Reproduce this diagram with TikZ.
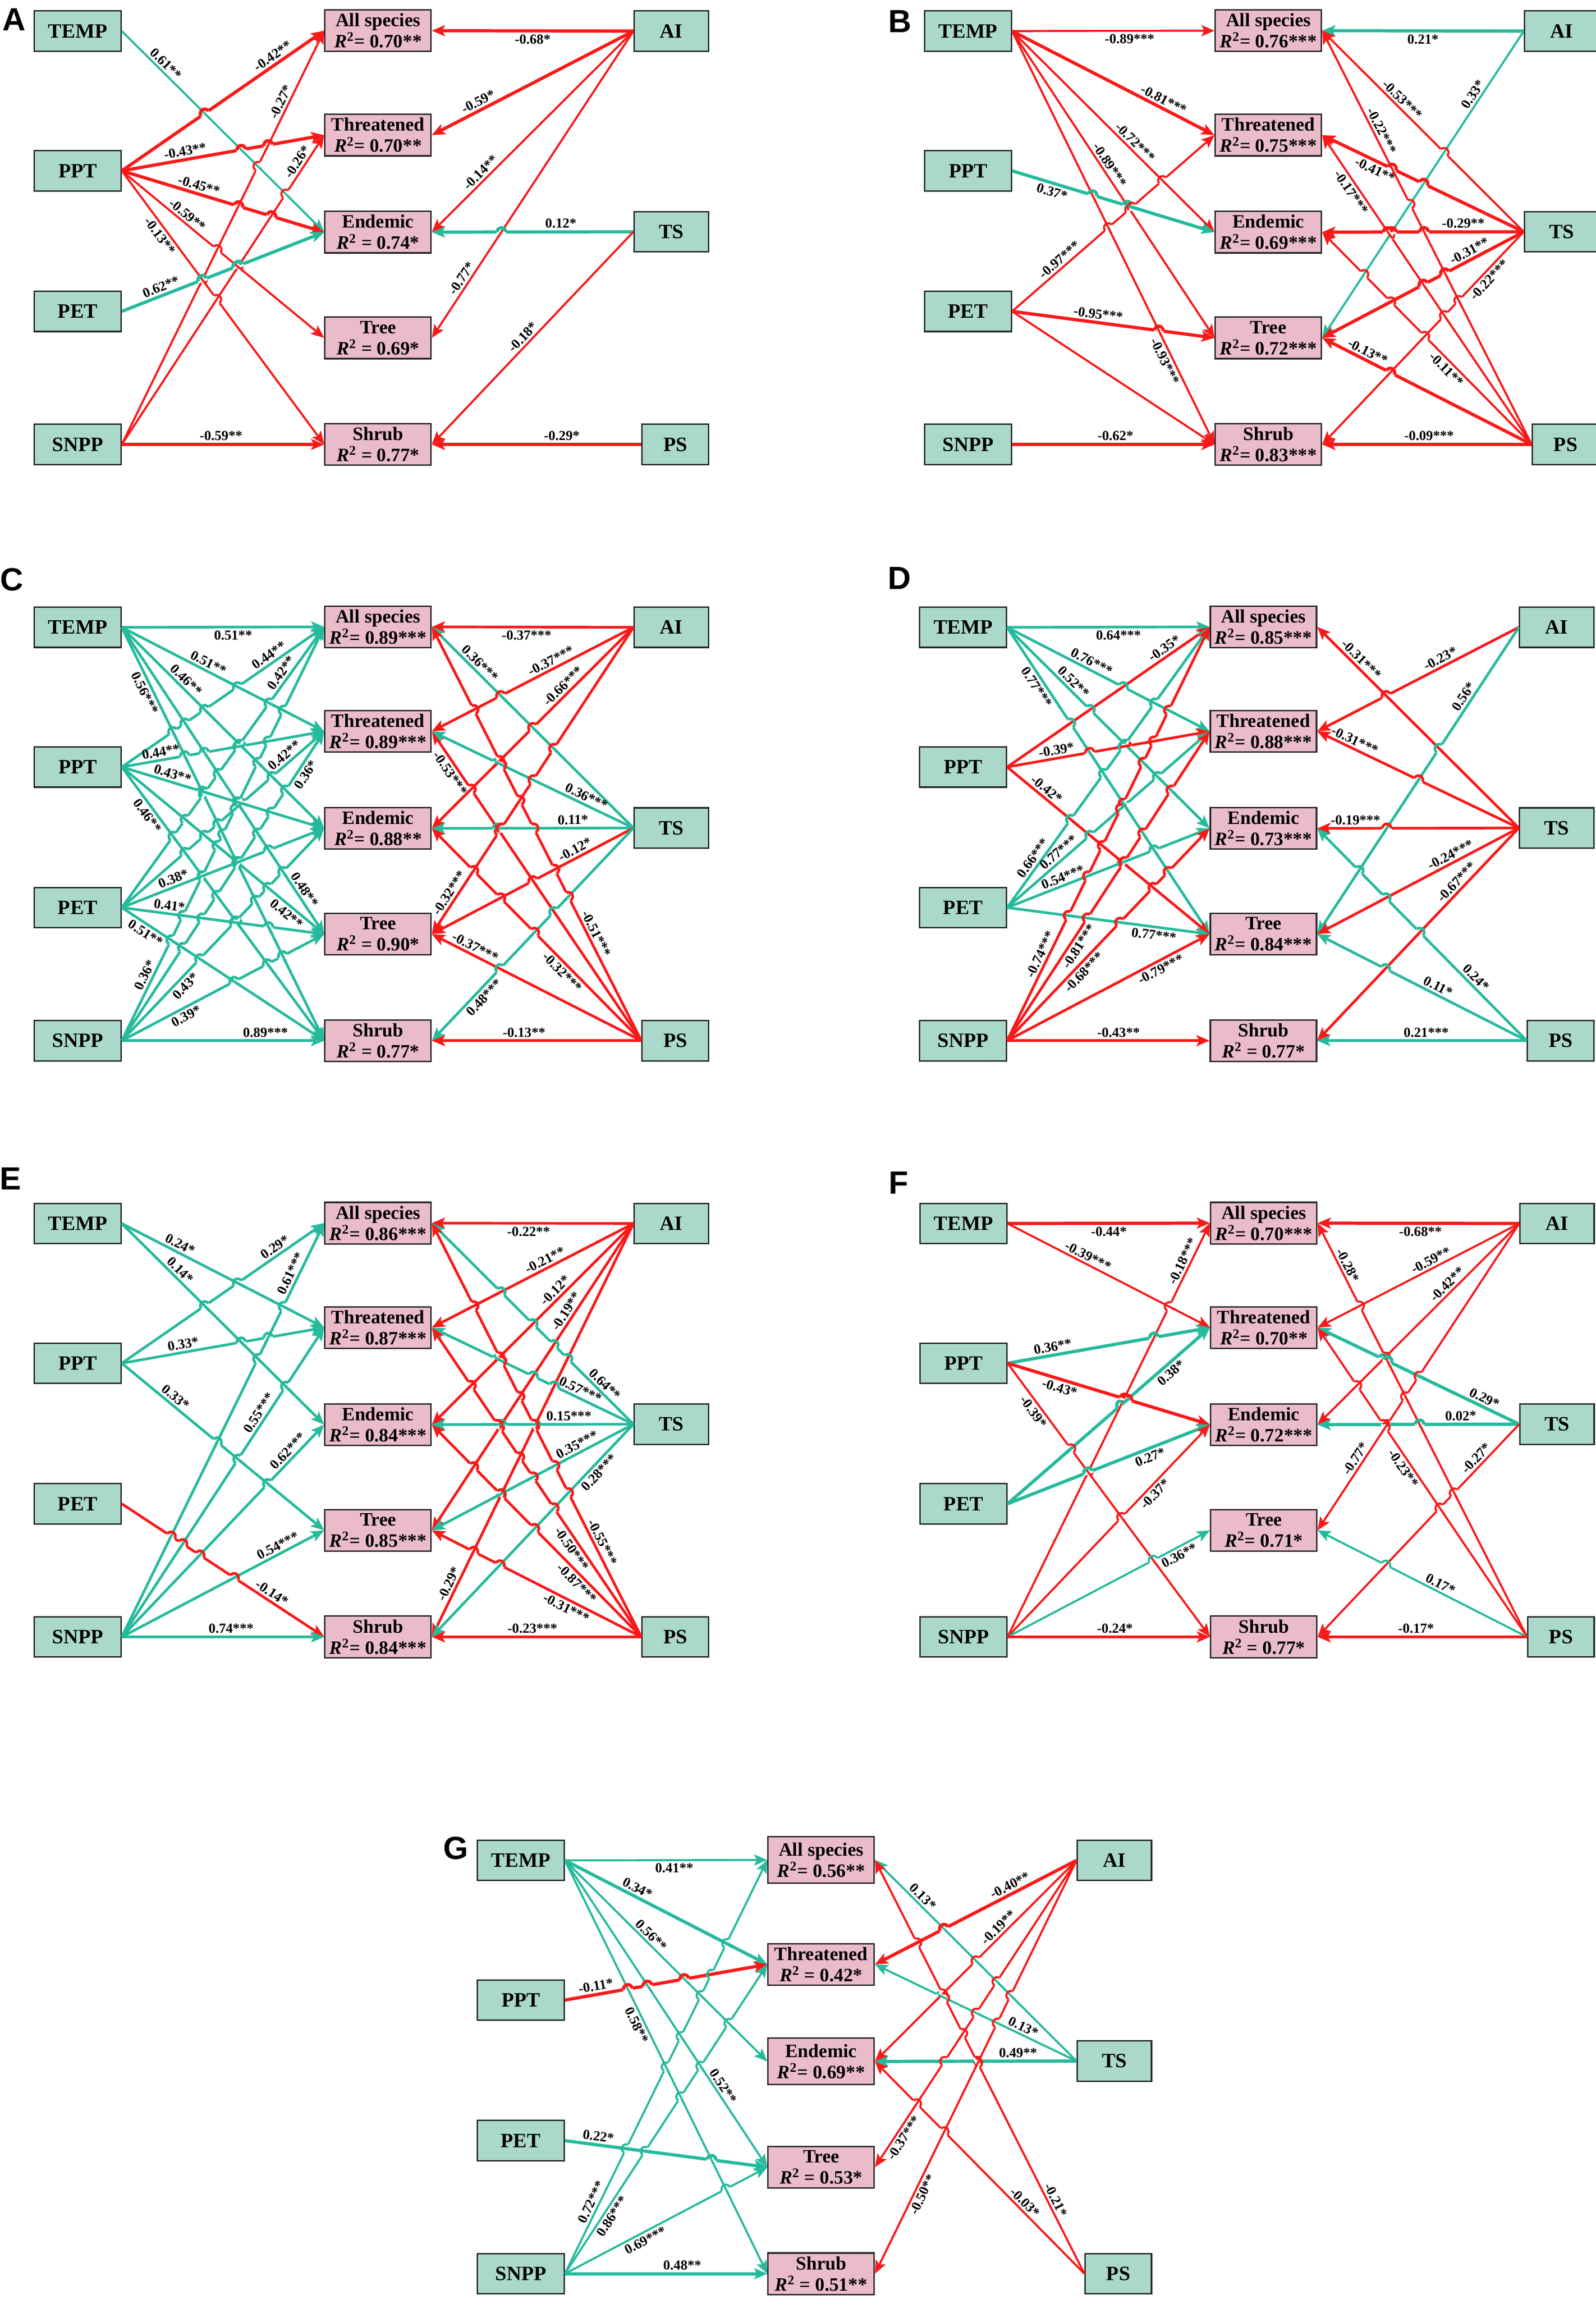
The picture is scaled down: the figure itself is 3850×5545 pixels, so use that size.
\documentclass[tikz,border=0pt]{standalone}
\usepackage{fontspec}
\setmainfont{Liberation Serif}
\newfontfamily\letterfont{Liberation Sans}
\usetikzlibrary{arrows.meta,intersections}
\definecolor{tealline}{RGB}{38,186,156}
\definecolor{tealfill}{RGB}{170,217,204}
\definecolor{pinkfill}{RGB}{234,188,201}
\definecolor{redline}{RGB}{250,25,25}
\definecolor{boxline}{RGB}{40,40,40}
\newcommand{\Rq}{\textit{R}\textsuperscript{2}}
\newcommand{\edgelw}{1.4pt}
\tikzset{
 gbox/.style={draw=boxline, line width=1pt, fill=tealfill, minimum width=2.09cm, minimum height=0.97cm, inner sep=1pt, font=\fontsize{14}{16}\selectfont\bfseries},
 pbox/.style={draw=boxline, line width=1pt, fill=pinkfill, minimum width=2.56cm, minimum height=1.0cm, inner sep=1pt, align=center, font=\fontsize{13}{14.5}\selectfont\bfseries},
 lab/.style={font=\fontsize{9.5}{10}\selectfont\bfseries, sloped, inner sep=1.5pt},
 pe/.style={draw=tealline, line width=\edgelw, -{Stealth[length=9pt,width=7.5pt,inset=2pt]}},
 ne/.style={draw=redline, line width=\edgelw, -{Stealth[length=9pt,width=7.5pt,inset=2pt]}},
 thk/.style={line width=2.2pt},
 plet/.style={font=\letterfont\fontsize{22}{22}\selectfont\bfseries},
 tallbox/.style={minimum height=1.12cm},
}
\newcommand{\drawpanel}[9]{%
\begin{scope}[shift={(#2,#3)}]
\node[gbox] (#1TEMP) at (187.5,75) {TEMP};
\node[gbox] (#1PPT) at (187.5,412) {PPT};
\node[gbox] (#1PET) at (187.5,751) {PET};
\node[gbox] (#1SNPP) at (187.5,1072) {SNPP};
\node[pbox,#9] (#1All) at (912,74) {All species\\#4};
\node[pbox] (#1Thr) at (912,326) {Threatened\\#5};
\node[pbox,#9] (#1End) at (912,560) {Endemic\\#6};
\node[pbox] (#1Tree) at (912,815) {Tree\\#7};
\node[pbox] (#1Shrub) at (912,1072) {Shrub\\#8};
\node[gbox,minimum width=1.79cm] (#1AI) at (1619.5,75) {AI};
\node[gbox,minimum width=1.79cm] (#1TS) at (1619.5,559) {TS};
\node[gbox,minimum width=1.6cm] (#1PS) at (1629,1072) {PS};
\end{scope}}
% ---- edges with line jumps
\newcounter{ecnt}
\newcommand{\plist}{0}
\newcommand{\curedge}{0}
\newcommand{\ntot}{0}
\newcommand{\dojumps}{%
 \foreach \i in \plist {%
  \edef\jtmp{\noexpand\path[name intersections={of=e\curedge\space and e\i,name=X,total=\noexpand\t}] \noexpand\pgfextra{\noexpand\xdef\noexpand\ntot{\noexpand\t}};}\jtmp
  \ifnum\ntot>0
   \path (X-1); \pgfgetlastxy{\jpx}{\jpy}%
   \path (s\curedge); \pgfgetlastxy{\jsx}{\jsy}%
   \path (t\curedge); \pgfgetlastxy{\jtx}{\jty}%
   \path (s\i); \pgfgetlastxy{\jux}{\juy}%
   \path (t\i); \pgfgetlastxy{\jvx}{\jvy}%
   \pgfmathtruncatemacro\jok{(veclen((\jpx)-(\jsx),(\jpy)-(\jsy))>14)*(veclen((\jpx)-(\jtx),(\jpy)-(\jty))>14)}%
   \ifnum\jok=1
    \pgfmathsetmacro\angj{atan2((\jty)-(\jsy),(\jtx)-(\jsx))}%
    \pgfmathsetmacro\angj{cos(\angj)<0 ? \angj+180 : \angj}%
    \pgfmathsetmacro\angi{atan2((\jvy)-(\juy),(\jvx)-(\jux))}%
    \draw[white,line width=3pt] (X-1) ++(\angj+180:3.3pt) -- ++(\angj:6.6pt);
    \edef\jtmp{\noexpand\draw[es\i,-]}\jtmp (X-1) ++(\angi+180:5pt) -- ++(\angi:10pt);
    \edef\jtmp{\noexpand\draw[es\curedge,-]}\jtmp (X-1) ++(\angj+180:3pt) arc[start angle=\angj+180, delta angle=-180, radius=3pt];
   \fi
  \fi
 }}
\newcommand{\mkedge}[6]{%
 \stepcounter{ecnt}%
 \edef\curedge{\arabic{ecnt}}%
 \edef\jtmp{\noexpand\tikzset{es\curedge/.style={\unexpanded{#1}}}}\jtmp
 \coordinate (s\curedge) at (#2);
 \coordinate (t\curedge) at (#3);
 \draw[#1, name path global=e\curedge] (#2) -- node[lab,pos=#5,#6]{#4} (#3);
 \dojumps
 \xdef\plist{\plist,\curedge}%
}
\newcommand{\ledge}[7]{\mkedge{#1}{#2#3.east}{#2#4.west}{#5}{#6}{#7}}
\newcommand{\redge}[7]{\mkedge{#1}{#2#3.west}{#2#4.east}{#5}{#6}{#7}}
\begin{document}
\begin{tikzpicture}[x=0.01cm,y=-0.01cm]
\fill[white] (0,0) rectangle (3850,5545);
\useasboundingbox (0,0) rectangle (3850,5545);
\path[name path global=e0] (-60,-60) -- (-50,-60);
% panel letters
\node[plet] (letA) at (34,47) {A};
\node[plet] (letB) at (2171,52) {B};
\node[plet] (letC) at (28,1398) {C};
\node[plet] (letD) at (2170,1395) {D};
\node[plet] (letE) at (25,2843) {E};
\node[plet] (letF) at (2168,2853) {F};
\node[plet] (letG) at (1100,4458) {G};
% skeletons
\drawpanel{A}{0}{0}{\Rq= 0.70**}{\Rq= 0.70**}{\Rq{} = 0.74*}{\Rq{} = 0.69*}{\Rq{} = 0.77*}{}
\drawpanel{B}{2148}{0}{\Rq= 0.76***}{\Rq= 0.75***}{\Rq= 0.69***}{\Rq= 0.72***}{\Rq= 0.83***}{}
\drawpanel{C}{0}{1438}{\Rq= 0.89***}{\Rq= 0.89***}{\Rq= 0.88**}{\Rq{} = 0.90*}{\Rq{} = 0.77*}{}
\drawpanel{D}{2136}{1438}{\Rq= 0.85***}{\Rq= 0.88***}{\Rq= 0.73***}{\Rq= 0.84***}{\Rq{} = 0.77*}{}
\drawpanel{E}{0}{2876}{\Rq= 0.86***}{\Rq= 0.87***}{\Rq= 0.84***}{\Rq= 0.85***}{\Rq= 0.84***}{}
\drawpanel{F}{2137}{2876}{\Rq= 0.70***}{\Rq= 0.70**}{\Rq= 0.72***}{\Rq= 0.71*}{\Rq{} = 0.77*}{}
\drawpanel{G}{1069}{4412}{\Rq= 0.56**}{\Rq{} = 0.42*}{\Rq= 0.69**}{\Rq{} = 0.53*}{\Rq{} = 0.51**}{tallbox}
% ---------- A
\gdef\plist{0}
\ledge{pe}{A}{TEMP}{End}{0.61**}{.19}{above}
\ledge{ne,thk}{A}{PPT}{All}{-0.42**}{.77}{above}
\ledge{ne}{A}{SNPP}{All}{-0.27*}{.82}{above}
\ledge{ne,thk}{A}{PPT}{Thr}{-0.43**}{.32}{above}
\ledge{ne}{A}{SNPP}{Thr}{-0.26*}{.9}{above}
\ledge{ne,thk}{A}{PPT}{End}{-0.45**}{.37}{above}
\ledge{ne}{A}{PPT}{Tree}{-0.59**}{.3}{above}
\ledge{ne}{A}{PPT}{Shrub}{-0.13**}{.22}{below}
\ledge{pe,thk}{A}{PET}{End}{0.62**}{.21}{above}
\ledge{ne,thk}{A}{SNPP}{Shrub}{-0.59**}{.49}{above}
\redge{ne,thk}{A}{AI}{All}{-0.68*}{.5}{below}
\redge{ne,thk}{A}{AI}{Thr}{-0.59*}{.75}{above}
\redge{ne}{A}{AI}{End}{-0.14**}{.73}{above}
\redge{ne}{A}{AI}{Tree}{-0.77*}{.82}{above}
\redge{pe,thk}{A}{TS}{End}{0.12*}{.36}{above}
\redge{ne}{A}{TS}{Shrub}{-0.18*}{.52}{above}
\redge{ne,thk}{A}{PS}{Shrub}{-0.29*}{.38}{above}
% ---------- B
\gdef\plist{0}
\ledge{ne}{B}{TEMP}{All}{-0.89***}{.58}{below}
\ledge{ne,thk}{B}{TEMP}{Thr}{-0.81***}{.73}{above}
\ledge{ne}{B}{TEMP}{End}{-0.72***}{.58}{above}
\ledge{ne}{B}{TEMP}{Tree}{-0.89***}{.45}{above}
\ledge{ne}{B}{TEMP}{Shrub}{-0.93***}{.79}{below}
\ledge{pe,thk}{B}{PPT}{End}{0.37*}{.21}{below}
\ledge{ne}{B}{PET}{Thr}{-0.97***}{.26}{above}
\ledge{ne,thk}{B}{PET}{Tree}{-0.95***}{.42}{above}
\ledge{ne}{B}{PET}{Shrub}{}{.5}{above}
\ledge{ne,thk}{B}{SNPP}{Shrub}{-0.62*}{.51}{above}
\redge{pe,thk}{B}{AI}{All}{0.21*}{.5}{below}
\redge{pe}{B}{AI}{Tree}{0.33*}{.22}{above}
\redge{ne}{B}{TS}{All}{-0.53***}{.63}{above}
\redge{ne}{B}{PS}{All}{-0.22***}{.75}{above}
\redge{ne,thk}{B}{TS}{Thr}{-0.41**}{.72}{below}
\redge{ne}{B}{PS}{Thr}{-0.17***}{.83}{below}
\redge{ne,thk}{B}{TS}{End}{-0.29**}{.3}{above}
\redge{ne,thk}{B}{TS}{Tree}{-0.31**}{.25}{above}
\redge{ne}{B}{TS}{Shrub}{-0.22***}{.2}{below}
\redge{ne}{B}{PS}{End}{-0.11**}{.38}{below}
\redge{ne,thk}{B}{PS}{Tree}{-0.13**}{.8}{above}
\redge{ne,thk}{B}{PS}{Shrub}{-0.09***}{.49}{above}
% ---------- C
\renewcommand{\edgelw}{1.8pt}
\gdef\plist{0}
\ledge{pe}{C}{TEMP}{All}{0.51**}{.55}{below}
\ledge{pe}{C}{TEMP}{Thr}{0.51**}{.41}{above}
\ledge{pe}{C}{TEMP}{End}{0.46**}{.29}{above}
\ledge{pe}{C}{TEMP}{Tree}{0.48**}{.87}{above}
\ledge{pe}{C}{TEMP}{Shrub}{0.56***}{.15}{below}
\ledge{pe}{C}{PPT}{All}{0.44**}{.75}{above}
\ledge{pe}{C}{PPT}{Thr}{0.44**}{.2}{above}
\ledge{pe}{C}{PPT}{End}{0.43**}{.24}{above}
\ledge{pe}{C}{PPT}{Tree}{0.42**}{.84}{below}
\ledge{pe}{C}{PPT}{Shrub}{0.46**}{.16}{below}
\ledge{pe}{C}{PET}{All}{0.42**}{.82}{above}
\ledge{pe}{C}{PET}{Thr}{0.42**}{.83}{above}
\ledge{pe}{C}{PET}{End}{0.38*}{.27}{above}
\ledge{pe}{C}{PET}{Tree}{0.41*}{.23}{above}
\ledge{pe}{C}{PET}{Shrub}{0.51**}{.14}{below}
\ledge{pe}{C}{SNPP}{All}{0.36*}{.15}{above}
\ledge{pe}{C}{SNPP}{Thr}{0.36*}{.875}{below}
\ledge{pe}{C}{SNPP}{End}{0.43*}{.285}{below}
\ledge{pe}{C}{SNPP}{Tree}{0.39*}{.3}{below}
\ledge{pe}{C}{SNPP}{Shrub}{0.89***}{.71}{above}
\redge{ne}{C}{AI}{All}{-0.37***}{.53}{below}
\redge{pe}{C}{TS}{All}{0.36***}{.79}{above}
\redge{ne}{C}{AI}{Thr}{-0.37***}{.39}{above}
\redge{ne}{C}{AI}{End}{-0.66***}{.32}{above}
\redge{ne}{C}{PS}{Thr}{-0.53***}{.88}{below}
\redge{pe}{C}{TS}{Thr}{0.36***}{.25}{above}
\redge{pe}{C}{TS}{End}{0.11*}{.3}{above}
\redge{ne}{C}{TS}{Tree}{-0.12*}{.27}{above}
\redge{ne}{C}{AI}{Tree}{-0.32***}{.88}{above}
\redge{ne}{C}{PS}{Tree}{-0.37***}{.81}{above}
\redge{pe}{C}{TS}{Shrub}{0.48***}{.77}{below}
\redge{ne}{C}{PS}{All}{-0.51***}{.25}{above}
\redge{ne}{C}{PS}{End}{-0.32***}{.35}{below}
\redge{ne}{C}{PS}{Shrub}{-0.13**}{.56}{above}
% ---------- D
\gdef\plist{0}
\ledge{pe}{D}{TEMP}{All}{0.64***}{.55}{below}
\ledge{ne}{D}{PPT}{All}{-0.35*}{.8}{above}
\ledge{pe}{D}{TEMP}{Thr}{0.76***}{.4}{above}
\ledge{pe}{D}{TEMP}{End}{0.52**}{.3}{above}
\ledge{pe}{D}{TEMP}{Tree}{0.77***}{.18}{below}
\ledge{ne}{D}{PPT}{Thr}{-0.39*}{.25}{above}
\ledge{ne}{D}{PPT}{Tree}{-0.42*}{.17}{above}
\ledge{pe}{D}{PET}{All}{0.66***}{.16}{above}
\ledge{pe}{D}{PET}{Thr}{0.77***}{.28}{above}
\ledge{pe}{D}{PET}{End}{0.54***}{.29}{above}
\ledge{pe}{D}{PET}{Tree}{0.77***}{.73}{below}
\ledge{ne}{D}{SNPP}{All}{-0.74***}{.2}{above}
\ledge{ne}{D}{SNPP}{Thr}{-0.81***}{.32}{below}
\ledge{ne}{D}{SNPP}{End}{-0.68***}{.35}{below}
\ledge{ne}{D}{SNPP}{Tree}{-0.79***}{.74}{below}
\ledge{ne}{D}{SNPP}{Shrub}{-0.43**}{.55}{above}
\redge{ne}{D}{TS}{All}{-0.31***}{.81}{above}
\redge{ne}{D}{AI}{Thr}{-0.23*}{.37}{above}
\redge{pe}{D}{AI}{Tree}{0.56*}{.24}{above}
\redge{ne}{D}{TS}{Thr}{-0.31***}{.83}{above}
\redge{ne}{D}{TS}{End}{-0.19***}{.81}{above}
\redge{ne}{D}{TS}{Tree}{-0.24***}{.32}{above}
\redge{ne}{D}{TS}{Shrub}{-0.67***}{.28}{above}
\redge{pe}{D}{PS}{End}{0.24*}{.27}{above}
\redge{pe}{D}{PS}{Tree}{0.11*}{.44}{above}
\redge{pe}{D}{PS}{Shrub}{0.21***}{.48}{above}
% ---------- E
\gdef\plist{0}
\ledge{pe}{E}{TEMP}{Thr}{0.24*}{.27}{above}
\ledge{pe}{E}{TEMP}{End}{0.14*}{.26}{above}
\ledge{pe}{E}{PPT}{All}{0.29*}{.78}{above}
\ledge{pe}{E}{SNPP}{All}{0.61***}{.87}{above}
\ledge{pe}{E}{PPT}{Thr}{0.33*}{.31}{above}
\ledge{pe}{E}{PPT}{Tree}{0.33*}{.24}{above}
\ledge{pe}{E}{SNPP}{Thr}{0.55***}{.71}{above}
\ledge{pe}{E}{SNPP}{End}{0.62***}{.85}{above}
\ledge{pe}{E}{SNPP}{Tree}{0.54***}{.79}{above}
\ledge{ne}{E}{PET}{Shrub}{-0.14*}{.72}{above}
\ledge{pe}{E}{SNPP}{Shrub}{0.74***}{.54}{above}
\redge{ne}{E}{AI}{All}{-0.22**}{.52}{below}
\redge{ne}{E}{AI}{Thr}{-0.21**}{.42}{above}
\redge{ne}{E}{AI}{End}{-0.12*}{.36}{above}
\redge{ne}{E}{AI}{Tree}{-0.19**}{.3}{above}
\redge{ne}{E}{AI}{Shrub}{-0.29*}{.88}{above}
\redge{pe}{E}{TS}{All}{0.64**}{.17}{above}
\redge{pe}{E}{TS}{Thr}{0.57***}{.28}{above}
\redge{pe}{E}{TS}{End}{0.15***}{.32}{above}
\redge{pe}{E}{TS}{Tree}{0.35***}{.26}{above}
\redge{pe}{E}{TS}{Shrub}{0.28***}{.2}{below}
\redge{ne}{E}{PS}{All}{-0.55***}{.22}{above}
\redge{ne}{E}{PS}{Thr}{-0.50***}{.3}{below}
\redge{ne}{E}{PS}{End}{-0.87***}{.28}{below}
\redge{ne}{E}{PS}{Tree}{-0.31***}{.34}{below}
\redge{ne}{E}{PS}{Shrub}{-0.23***}{.52}{above}
% ---------- F
\renewcommand{\edgelw}{1.4pt}
\gdef\plist{0}
\ledge{ne,thk}{F}{TEMP}{All}{-0.44*}{.5}{below}
\ledge{ne}{F}{TEMP}{Thr}{-0.39***}{.38}{above}
\ledge{ne}{F}{SNPP}{All}{-0.18***}{.9}{above}
\ledge{pe,thk}{F}{PPT}{Thr}{0.36**}{.23}{above}
\ledge{pe,thk}{F}{PET}{Thr}{0.38*}{.78}{below}
\ledge{ne,thk}{F}{PPT}{End}{-0.43*}{.27}{below}
\ledge{ne}{F}{PPT}{Shrub}{-0.39*}{.16}{below}
\ledge{pe,thk}{F}{PET}{End}{0.27*}{.69}{below}
\ledge{ne}{F}{SNPP}{End}{-0.37*}{.7}{below}
\ledge{pe}{F}{SNPP}{Tree}{0.36**}{.83}{below}
\ledge{ne,thk}{F}{SNPP}{Shrub}{-0.24*}{.53}{above}
\redge{ne,thk}{F}{AI}{All}{-0.68**}{.49}{below}
\redge{ne}{F}{AI}{Thr}{-0.59**}{.42}{above}
\redge{ne}{F}{AI}{End}{-0.42**}{.33}{above}
\redge{ne}{F}{PS}{All}{-0.28*}{.89}{above}
\redge{pe,thk}{F}{TS}{Thr}{0.29*}{.19}{above}
\redge{pe,thk}{F}{TS}{End}{0.02*}{.29}{above}
\redge{ne}{F}{AI}{Tree}{-0.77*}{.78}{above}
\redge{ne}{F}{PS}{Thr}{-0.23**}{.56}{below}
\redge{ne}{F}{TS}{Shrub}{-0.27*}{.185}{above}
\redge{pe}{F}{PS}{Tree}{0.17*}{.43}{above}
\redge{ne,thk}{F}{PS}{Shrub}{-0.17*}{.53}{above}
% ---------- G
\gdef\plist{0}
\ledge{pe}{G}{TEMP}{All}{0.41**}{.54}{below}
\ledge{pe,thk}{G}{TEMP}{Thr}{0.34*}{.34}{above}
\ledge{pe}{G}{TEMP}{End}{0.56**}{.4}{above}
\ledge{pe}{G}{TEMP}{Shrub}{0.58**}{.39}{below}
\ledge{pe}{G}{TEMP}{Tree}{0.52**}{.75}{above}
\ledge{ne,thk}{G}{PPT}{Thr}{-0.11*}{.16}{above}
\ledge{pe,thk}{G}{PET}{Tree}{0.22*}{.16}{above}
\ledge{pe}{G}{SNPP}{All}{0.72***}{.165}{above}
\ledge{pe}{G}{SNPP}{Thr}{0.86***}{.2}{below}
\ledge{pe}{G}{SNPP}{Tree}{0.69***}{.38}{below}
\ledge{pe,thk}{G}{SNPP}{Shrub}{0.48**}{.58}{above}
\redge{pe}{G}{TS}{All}{0.13*}{.79}{above}
\redge{ne,thk}{G}{AI}{Thr}{-0.40**}{.31}{above}
\redge{ne}{G}{AI}{End}{-0.19**}{.36}{above}
\redge{pe}{G}{TS}{Thr}{0.13*}{.28}{above}
\redge{pe,thk}{G}{TS}{End}{0.49**}{.29}{above}
\redge{ne}{G}{AI}{Tree}{-0.37***}{.89}{below}
\redge{ne}{G}{AI}{Shrub}{-0.50**}{.8}{below}
\redge{ne}{G}{PS}{End}{-0.03*}{.31}{above}
\redge{ne}{G}{PS}{All}{-0.21*}{.17}{above}
\end{tikzpicture}
\end{document}
